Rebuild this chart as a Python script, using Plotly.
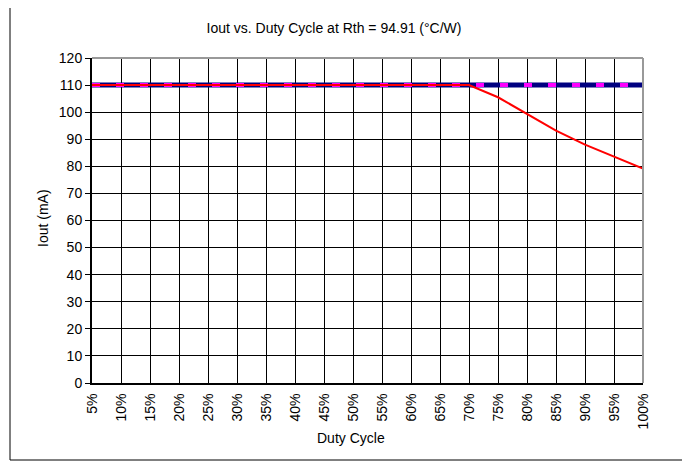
import plotly.graph_objects as go

duty_cycle = ["5%", "10%", "15%", "20%", "25%", "30%", "35%", "40%", "45%", "50%",
              "55%", "60%", "65%", "70%", "75%", "80%", "85%", "90%", "95%", "100%"]
iout_set = [110] * 20
iout_limit = [110] * 20
iout_actual = [110, 110, 110, 110, 110, 110, 110, 110, 110, 110,
               110, 110, 110, 110, 105.5, 99.5, 93.2, 88.0, 83.5, 79.2]
y_ticks = list(range(0, 121, 10))

FONT = "Liberation Sans, Arial, sans-serif"
FS = 14

# screen -> paper helpers (plot area on screen: x 92..643, y 58..383)
def px(sx):
    return (sx - 92) / 551

def py(sy):
    return (383 - sy) / 325

fig = go.Figure()
fig.add_trace(go.Scatter(x=duty_cycle, y=iout_set, mode="lines",
                         line=dict(color="#000080", width=5), showlegend=False))
fig.add_trace(go.Scatter(x=duty_cycle, y=iout_limit, mode="lines",
                         line=dict(color="#FF00FF", width=4, dash="8px,16px"), showlegend=False))
fig.add_trace(go.Scatter(x=duty_cycle, y=iout_actual, mode="lines",
                         line=dict(color="#FF0000", width=2), showlegend=False))

fig.update_layout(
    width=690, height=464,
    margin=dict(l=84, r=55, t=50, b=89),
    paper_bgcolor="white", plot_bgcolor="white",
    font=dict(family=FONT, size=FS, color="black"),
    title=dict(text="Iout vs. Duty Cycle at Rth = 94.91 (°C/W)",
               x=(334 - 8) / 690, xanchor="center",
               y=1 - (28 - 8) / 464, yanchor="middle",
               font=dict(family=FONT, size=FS, color="black")),
    showlegend=False,
)
fig.update_xaxes(
    type="category", categoryorder="array", categoryarray=duty_cycle,
    range=[0, len(duty_cycle) - 1],
    showgrid=True, gridcolor="black", gridwidth=1,
    showline=True, linecolor="black", linewidth=2,
    ticks="outside", ticklen=3, tickcolor="rgba(0,0,0,0)",
    tickangle=-90, tickfont=dict(size=FS),
    zeroline=False, automargin=False,
)
fig.update_yaxes(
    range=[0, 120], tickmode="array", tickvals=y_ticks,
    showgrid=True, gridcolor="black", gridwidth=1,
    showline=True, linecolor="black", linewidth=2,
    ticks="outside", ticklen=5, tickcolor="black",
    tickfont=dict(size=FS),
    zeroline=False, automargin=False,
)
# axis titles
fig.add_annotation(text="Duty Cycle", xref="paper", yref="paper",
                   x=px(351), y=py(438), xanchor="center", yanchor="middle",
                   showarrow=False, font=dict(size=FS))
fig.add_annotation(text="Iout (mA)", xref="paper", yref="paper",
                   x=px(43), y=py(218), xanchor="center", yanchor="middle",
                   textangle=-90, showarrow=False, font=dict(size=FS))
# gray top and right plot-area border
fig.add_shape(type="line", xref="paper", yref="paper", x0=0, x1=1, y0=1, y1=1,
              line=dict(color="#999999", width=2), layer="above")
fig.add_shape(type="line", xref="paper", yref="paper", x0=1, x1=1, y0=0, y1=1,
              line=dict(color="#999999", width=2), layer="above")
# outer chart border
fig.add_shape(type="rect", xref="paper", yref="paper",
              x0=px(10), x1=px(683), y0=py(460), y1=py(5),
              line=dict(color="black", width=1), layer="above")

fig.write_html("out.html")
